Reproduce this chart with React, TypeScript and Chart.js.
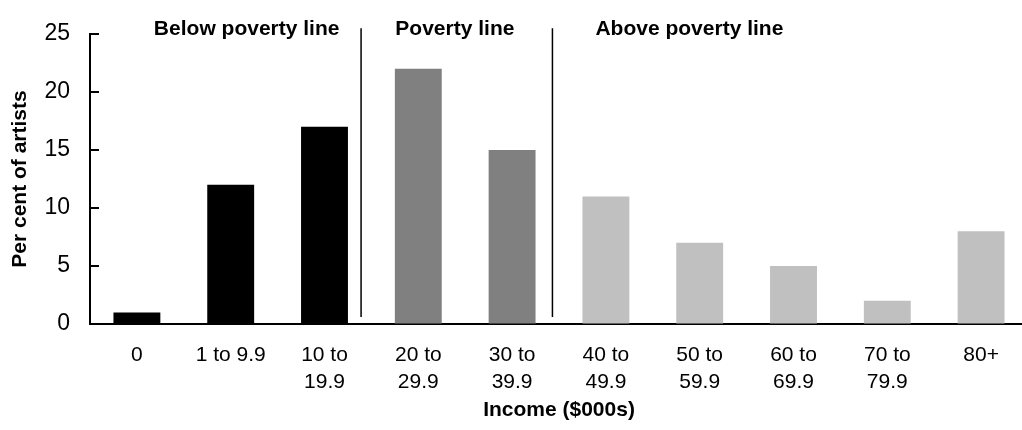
import React, { useEffect, useRef } from "react";
import { Chart, registerables } from "chart.js";

Chart.register(...registerables);

const categories: (string | string[])[] = [
  "0",
  "1 to 9.9",
  ["10 to", "19.9"],
  ["20 to", "29.9"],
  ["30 to", "39.9"],
  ["40 to", "49.9"],
  ["50 to", "59.9"],
  ["60 to", "69.9"],
  ["70 to", "79.9"],
  "80+",
];
const percentOfArtists = [1, 12, 17, 22, 15, 11, 7, 5, 2, 8];
const barGroups = ["below", "below", "below", "poverty", "poverty", "above", "above", "above", "above", "above"];
const groupColors: Record<string, string> = { below: "#000000", poverty: "#808080", above: "#c0c0c0" };

const groupLabels = ["Below poverty line", "Poverty line", "Above poverty line"];
const groupLabelAt = [1.17, 3.39, 5.89];
const dividerAt = [2.39, 4.43];
const yTicks = [0, 5, 10, 15, 20, 25];

const FONT = "'Liberation Sans', Arial, Helvetica, sans-serif";

const overlayPlugin = {
  id: "overlay",
  afterDraw(chart: any) {
    const { ctx, chartArea, scales } = chart;
    const x = scales.x;
    const y = scales.y;
    ctx.save();
    // inward ticks on y axis
    ctx.strokeStyle = "#000";
    ctx.lineWidth = 2;
    yTicks.forEach((v) => {
      const py = Math.round(y.getPixelForValue(v));
      ctx.beginPath();
      ctx.moveTo(chartArea.left, py);
      ctx.lineTo(chartArea.left + 9, py);
      ctx.stroke();
    });
    // dividers
    ctx.lineWidth = 1.5;
    dividerAt.forEach((d) => {
      const px = x.getPixelForValue(d);
      ctx.beginPath();
      ctx.moveTo(px, y.getPixelForValue(25.5));
      ctx.lineTo(px, y.getPixelForValue(0.6));
      ctx.stroke();
    });
    // group labels
    ctx.fillStyle = "#000";
    ctx.font = `bold 21px ${FONT}`;
    ctx.textAlign = "center";
    ctx.textBaseline = "alphabetic";
    groupLabels.forEach((t, i) => {
      ctx.fillText(t, x.getPixelForValue(groupLabelAt[i]), y.getPixelForValue(24.9));
    });
    ctx.restore();
  },
};

export default function App() {
  const ref = useRef<HTMLCanvasElement | null>(null);
  useEffect(() => {
    if (!ref.current) return;
    const chart = new Chart(ref.current, {
      type: "bar",
      data: {
        labels: categories as any,
        datasets: [
          {
            data: percentOfArtists,
            backgroundColor: barGroups.map((g) => groupColors[g]),
            barPercentage: 0.5,
            categoryPercentage: 1,
          },
        ],
      },
      options: {
        animation: false,
        responsive: false,
        devicePixelRatio: 1,
        layout: { padding: { top: 34, right: 12, left: 0, bottom: 0 } },
        plugins: { legend: { display: false }, tooltip: { enabled: false } },
        scales: {
          x: {
            grid: { display: true, drawOnChartArea: false, drawTicks: false },
            border: { display: true, color: "#000", width: 2 },
            ticks: {
              color: "#000",
              font: { family: FONT, size: 21, lineHeight: 1.286 },
              padding: 18,
              maxRotation: 0,
              autoSkip: false,
            },
            title: {
              display: true,
              text: "Income ($000s)",
              color: "#000",
              font: { family: FONT, size: 21, weight: "bold" },
              padding: { top: 0, bottom: 7 },
            },
            afterFit(scale: any) {
              scale.height = 106;
            },
          },
          y: {
            min: 0,
            max: 25,
            grid: { display: true, drawOnChartArea: false, drawTicks: false },
            border: { display: true, color: "#000", width: 2 },
            ticks: {
              stepSize: 5,
              color: "#000",
              font: { family: FONT, size: 23 },
              padding: 20,
            },
            title: {
              display: true,
              text: "Per cent of artists",
              color: "#000",
              font: { family: FONT, size: 21, weight: "bold" },
              padding: { top: 8, bottom: 0 },
            },
            afterFit(scale: any) {
              scale.width = 90;
            },
          },
        },
      },
      plugins: [overlayPlugin],
    });
    return () => chart.destroy();
  }, []);

  return (
    <div style={{ position: "fixed", left: 0, top: 0, width: 1022, height: 430, overflow: "hidden", background: "#fff" }}>
      <canvas ref={ref} width={1040} height={430} style={{ display: "block" }} />
    </div>
  );
}
